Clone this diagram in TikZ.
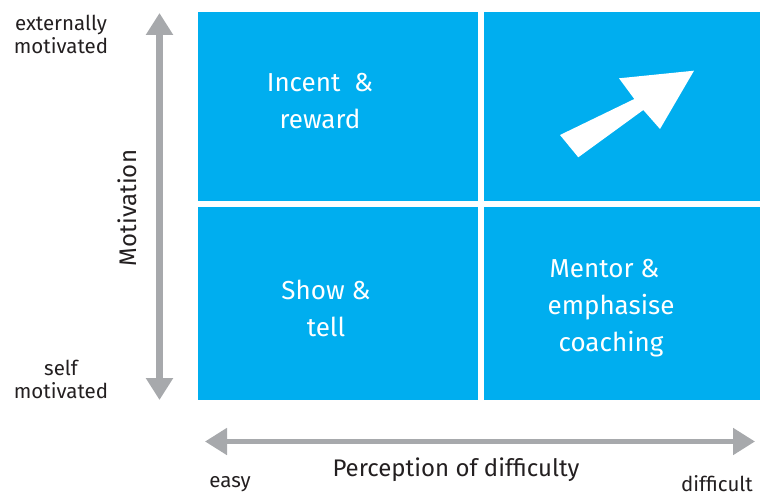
\documentclass[tikz,border=0pt]{standalone}
\usepackage{fontspec}
\setmainfont{Fira Sans}
\usetikzlibrary{arrows.meta}
\definecolor{quadblue}{RGB}{0,174,239}
\definecolor{axisgray}{RGB}{167,169,172}
\definecolor{labelink}{RGB}{35,31,32}
\begin{document}
\begin{tikzpicture}[x=1pt,y=-1pt,
  quad/.style={fill=quadblue,draw=none},
  quadtext/.style={text=white,font=\fontsize{26}{37}\selectfont,align=center,inner sep=0pt},
  axislabel/.style={text=labelink,font=\fontsize{20.5}{23}\selectfont,align=center,inner sep=0pt},
  axistitle/.style={text=labelink,font=\fontsize{24}{26}\selectfont,inner sep=0pt},
  axis/.style={draw=axisgray,-{Triangle[length=22pt,width=26pt]}}
]
\useasboundingbox (0,0) rectangle (760,497);

% quadrant tiles
\fill[quad] (198,12) rectangle (478,201.5);
\fill[quad] (483.5,12) rectangle (760,201.5);
\fill[quad] (198,207) rectangle (478,400);
\fill[quad] (483.5,207) rectangle (760,400);

% tile captions
\node[quadtext] (incent) at (320,101) {Incent\ \ \&\\reward};
\node[quadtext] (show) at (326,308) {Show \&\\tell};
\node[quadtext] (mentor) at (611,308) {Mentor \&\hspace*{13pt}\\emphasise\\coaching};

% growth arrow in the upper right tile
\fill[white] (694,70.7) -- (619,78.3) -- (634.3,99) -- (560,135)
  -- (578.3,157.3) -- (643.3,110) -- (660,129) -- cycle;

% vertical axis
\coordinate (vmid) at (159.5,206);
\coordinate (vtop) at (159.5,13);
\coordinate (vbot) at (159.5,400);
\draw[axis,line width=6.5pt] (vmid) -- (vtop);
\draw[axis,line width=6.5pt] (vmid) -- (vbot);

% horizontal axis
\coordinate (hmid) at (480,441.5);
\coordinate (hleft) at (205,441.5);
\coordinate (hright) at (755,441.5);
\draw[axis,line width=5pt] (hmid) -- (hleft);
\draw[axis,line width=5pt] (hmid) -- (hright);

% axis labels
\node[axislabel] (ext) at (61,34) {externally\\motivated};
\node[axislabel] (self) at (61,379) {self\\motivated};
\node[axistitle,rotate=90] (motiv) at (127,208) {Motivation};
\node[axistitle] (perc) at (456,470) {Perception of difficulty};
\node[axislabel] (easy) at (230,484) {easy};
\node[axislabel] (hard) at (717,484) {difficult};
\end{tikzpicture}
\end{document}
